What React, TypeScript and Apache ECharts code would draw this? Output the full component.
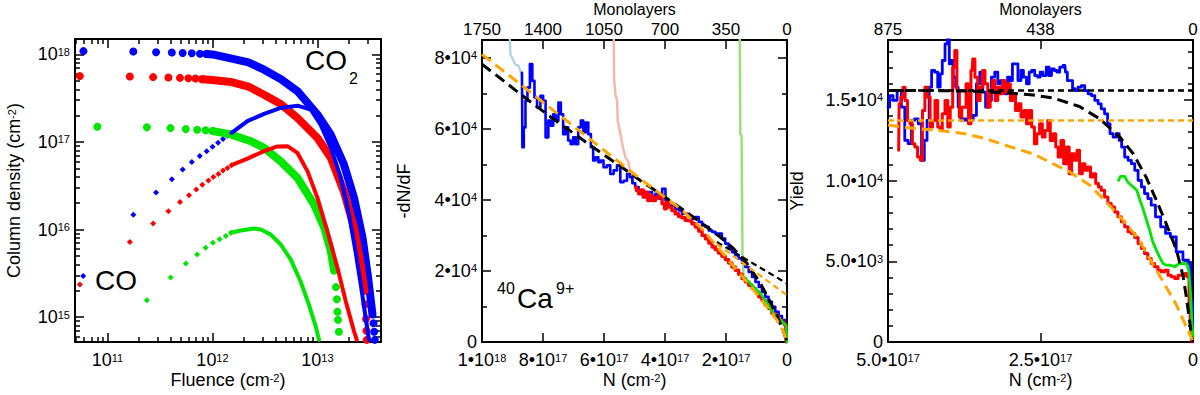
import { useEffect, useRef } from 'react';
import * as echarts from 'echarts';

const FONT = "'Liberation Sans', Arial, Helvetica, sans-serif";

// ---------------- Panel 1: column density vs fluence ([fluence, N] in cm^-2) ----------------
const co2BlueDots = [[5.9e10, 1.09e18], [1.76e11, 1.08e18], [2.9e11, 1.06e18], [4.1e11, 1.05e18], [5.2e11, 1.04e18], [6.35e11, 1.03e18], [7.6e11, 1.02e18], [8.8e11, 1.01e18], [3.42e13, 8.5e14], [3.47e13, 6.8e14], [3.52e13, 5.5e14]];
const co2BlueBand = [[8.8e11, 1.01e18], [1.0e12, 1.0e18], [1.49e12, 0.9e18], [2.2e12, 0.81e18], [3.1e12, 0.67e18], [4.5e12, 0.52e18], [6.45e12, 0.38e18], [1e13, 0.206e18], [1.34e13, 1.21e17], [1.79e13, 5.5e16], [2.23e13, 2.3e16], [2.69e13, 8e15], [3.04e13, 2.8e15], [3.34e13, 1.07e15]];
const co2RedDots = [[5.45e10, 5.65e17], [1.63e11, 5.6e17], [2.72e11, 5.5e17], [3.8e11, 5.45e17], [4.9e11, 5.4e17], [5.9e11, 5.35e17], [6.9e11, 5.3e17], [8.0e11, 5.2e17], [2.86e13, 1.4e15], [2.9e13, 9.5e14], [2.93e13, 7e14], [2.95e13, 5.5e14]];
const co2RedBand = [[8.0e11, 5.2e17], [1.0e12, 5.1e17], [1.49e12, 4.85e17], [2.2e12, 4.3e17], [3.1e12, 3.47e17], [4.5e12, 2.7e17], [6.45e12, 1.88e17], [1e13, 1.11e17], [1.34e13, 6.6e16], [1.79e13, 2.7e16], [2.23e13, 1.05e16], [2.58e13, 4e15], [2.8e13, 2e15]];
const co2GreenDots = [[8.0e10, 1.49e17], [2.37e11, 1.47e17], [3.98e11, 1.44e17], [5.57e11, 1.41e17], [7.14e11, 1.38e17], [8.6e11, 1.36e17], [1.01e12, 1.33e17], [1.5e13, 2.2e15], [1.53e13, 1.6e15], [1.55e13, 1.15e15], [1.57e13, 9.3e14], [1.6e13, 6.8e14]];
const co2GreenBand = [[1.01e12, 1.33e17], [1.49e12, 1.22e17], [2.32e12, 1.02e17], [3.1e12, 8.6e16], [4.47e12, 6.0e16], [6.45e12, 3.9e16], [9.3e12, 1.93e16], [1.16e13, 1.05e16], [1.34e13, 5.7e15], [1.44e13, 3.4e15]];
const coBlueDots = [[5.86e10, 2.94e15], [1.76e11, 1.48e16], [2.9e11, 2.65e16], [4.1e11, 3.76e16], [5.2e11, 4.84e16], [6.35e11, 5.9e16], [7.57e11, 6.94e16], [8.8e11, 7.85e16], [1.0e12, 8.8e16], [1.13e12, 9.8e16], [1.26e12, 1.08e17], [1.39e12, 1.18e17], [1.52e12, 1.27e17]];
const coBlueBand = [[1.52e12, 1.27e17], [2.15e12, 1.73e17], [3.1e12, 2.09e17], [4.47e12, 2.45e17], [6.45e12, 2.6e17], [8.65e12, 2.34e17], [1.07e13, 1.58e17], [1.34e13, 8.6e16], [1.67e13, 3.9e16], [2.0e13, 1.48e16], [2.3e13, 5.7e15], [2.58e13, 2.4e15], [2.88e13, 9.8e14], [3.1e13, 5.5e14]];
const coRedDots = [[5.45e10, 2.36e15], [1.63e11, 7.2e15], [2.72e11, 1.17e16], [3.8e11, 1.62e16], [4.9e11, 2.06e16], [5.97e11, 2.47e16], [7.0e11, 2.87e16], [8.0e11, 3.24e16], [9.15e11, 3.63e16], [1.02e12, 3.97e16], [1.14e12, 4.32e16], [1.26e12, 4.72e16], [1.39e12, 5.06e16], [1.52e12, 5.43e16]];
const coRedBand = [[1.52e12, 5.43e16], [2.15e12, 6.46e16], [3.1e12, 7.85e16], [4.16e12, 8.9e16], [5.18e12, 8.96e16], [6.45e12, 7.5e16], [8.03e12, 4.65e16], [1e13, 2.3e16], [1.24e13, 9.6e15], [1.55e13, 3.66e15], [1.86e13, 1.52e15], [2.23e13, 6.9e14], [2.37e13, 5.5e14]];
const coGreenDots = [[2.37e11, 1.56e15], [4.0e11, 2.83e15], [5.57e11, 4.1e15], [7.14e11, 5.2e15], [8.6e11, 6.2e15], [1.01e12, 7.05e15], [1.17e12, 7.77e15], [1.34e12, 8.47e15], [1.5e12, 9.2e15]];
const coGreenBand = [[1.5e12, 9.2e15], [1.86e12, 9.75e15], [2.49e12, 1.03e16], [2.88e12, 1.0e16], [3.59e12, 8.77e15], [4.47e12, 6.75e15], [5.57e12, 4.54e15], [6.9e12, 2.57e15], [8.3e12, 1.38e15], [9.64e12, 7.8e14], [1.035e13, 5.5e14]];

// ---------------- Panel 2: -dN/dF vs N ([N cm^-2, -dN/dF]) ----------------
const lightBlue2 = [[9.09e17, 86000], [9.07e17, 81000], [8.91e17, 78200], [8.80e17, 77700], [8.72e17, 75800]];
const pink2 = [[5.68e17, 86000], [5.67e17, 74400], [5.63e17, 69800], [5.57e17, 67900], [5.55e17, 62300], [5.46e17, 58500], [5.38e17, 54800], [5.30e17, 52000], [5.22e17, 51100], [5.14e17, 48300], [5.03e17, 45000], [4.97e17, 43600]];
const lightGreen2 = [[1.55e17, 86000], [1.53e17, 58500], [1.49e17, 58100], [1.46e17, 24900], [1.42e17, 18300]];
const blue2 = [[8.69e17, 75800], [8.66e17, 54800], [8.60e17, 60400], [8.55e17, 67900], [8.47e17, 71600], [8.39e17, 78200], [8.31e17, 73500], [8.25e17, 68800], [8.14e17, 66000], [8.03e17, 69300], [7.96e17, 67900], [7.87e17, 57600], [7.78e17, 62300], [7.70e17, 60900], [7.63e17, 64100], [7.54e17, 62300], [7.45e17, 67400], [7.38e17, 64100], [7.30e17, 58500], [7.21e17, 60400], [7.14e17, 56700], [7.05e17, 55700], [6.97e17, 57600], [6.89e17, 55700], [6.80e17, 60400], [6.72e17, 62300], [6.64e17, 59000], [6.56e17, 61800], [6.47e17, 58500], [6.39e17, 54800], [6.32e17, 51100], [6.23e17, 52000], [6.14e17, 50600], [6.07e17, 51100], [5.96e17, 49200], [5.85e17, 49700], [5.74e17, 47300], [5.63e17, 48300], [5.52e17, 49700], [5.41e17, 45000], [5.30e17, 45400], [5.19e17, 47300], [5.11e17, 46400], [5.03e17, 44700], [4.92e17, 43600], [4.81e17, 42600], [4.70e17, 42200], [4.59e17, 40800], [4.48e17, 42200], [4.37e17, 39800], [4.26e17, 41700], [4.15e17, 40300], [4.04e17, 43100], [3.93e17, 39800], [3.83e17, 38400], [3.72e17, 38400], [3.61e17, 37500], [3.50e17, 37000], [3.39e17, 36100], [3.28e17, 36100], [3.17e17, 35300], [3.06e17, 34700], [2.95e17, 35200], [2.84e17, 33800], [2.73e17, 32800], [2.62e17, 32400], [2.51e17, 31400], [2.40e17, 31000], [2.30e17, 30500], [2.19e17, 30500], [2.08e17, 29100], [1.97e17, 27700], [1.86e17, 26300], [1.75e17, 25300], [1.64e17, 24400], [1.53e17, 23500], [1.42e17, 22300], [1.31e17, 21100], [1.20e17, 19700], [1.09e17, 18300], [0.98e17, 16900], [0.87e17, 15500], [0.77e17, 14100], [0.66e17, 12700], [0.55e17, 11300], [0.44e17, 9900], [0.33e17, 8500], [0.22e17, 7300], [0.11e17, 6200], [0.03e17, 4800], [0, 0]];
const red2 = [[4.97e17, 43570], [4.90e17, 42640], [4.83e17, 41700], [4.75e17, 42820], [4.68e17, 40770], [4.59e17, 42170], [4.54e17, 39830], [4.46e17, 41230], [4.37e17, 39830], [4.26e17, 40580], [4.15e17, 41230], [4.04e17, 38900], [3.99e17, 37490], [3.93e17, 39360], [3.83e17, 37960], [3.72e17, 37030], [3.61e17, 36090], [3.50e17, 35340], [3.39e17, 34970], [3.28e17, 34220], [3.17e17, 34030], [3.06e17, 33290], [2.95e17, 32350], [2.84e17, 31230], [2.73e17, 30010], [2.62e17, 29080], [2.51e17, 27860], [2.40e17, 26740], [2.30e17, 25990], [2.19e17, 25060], [2.08e17, 24120], [1.97e17, 23190], [1.86e17, 22250], [1.75e17, 21130], [1.64e17, 20200], [1.53e17, 19070], [1.42e17, 17860], [1.31e17, 16920], [1.20e17, 15990], [1.09e17, 15050], [0.98e17, 14120], [0.87e17, 12720], [0.77e17, 11780], [0.66e17, 10380], [0.55e17, 9440], [0.44e17, 8040], [0.33e17, 7110], [0.22e17, 6170], [0.11e17, 5420], [0.04e17, 4770], [0, 0]];
const green2 = [[1.42e17, 18330], [1.31e17, 17400], [1.20e17, 16460], [1.04e17, 15050], [0.87e17, 13650], [0.66e17, 11000], [0.44e17, 8040], [0.22e17, 6300], [0.11e17, 5240], [0.03e17, 4800], [0, 0]];
const blackFit2 = [[10.0e17, 78170], [9.40e17, 74240], [8.74e17, 69750], [8.09e17, 65540], [7.43e17, 61340], [6.78e17, 57410], [6.12e17, 53390], [5.46e17, 49460], [4.81e17, 45440], [4.15e17, 41700], [3.50e17, 37770], [2.84e17, 33750], [2.19e17, 29550], [1.75e17, 26270], [1.31e17, 22070], [0.87e17, 16460], [0.55e17, 11310], [0.27e17, 6170], [0.11e17, 2900], [0, 0]];
const orangeFit2 = [[10.0e17, 80970], [9.40e17, 76950], [8.74e17, 72560], [8.09e17, 68070], [7.43e17, 63670], [6.78e17, 59280], [6.12e17, 54790], [5.46e17, 50300], [4.81e17, 45910], [4.15e17, 41700], [3.50e17, 37490], [2.84e17, 32350], [2.19e17, 25810], [1.64e17, 20200], [1.09e17, 14590], [0.66e17, 9910], [0.33e17, 6170], [0.11e17, 2900], [0, 0]];
const blackLin2 = [[2.30e17, 28140], [0, 16460]];
const orangeLin2 = [[2.30e17, 27580], [0, 13180]];

// ---------------- Panel 3: yield vs N ([N cm^-2, yield]) ----------------
const blue3 = [[5.0e17, 14540], [4.945e17, 15260], [4.89e17, 14960], [4.81e17, 15570], [4.75e17, 14540], [4.70e17, 12480], [4.64e17, 12280], [4.59e17, 13720], [4.54e17, 13820], [4.47e17, 13510], [4.43e17, 11250], [4.38e17, 12480], [4.34e17, 13720], [4.31e17, 15780], [4.26e17, 16810], [4.21e17, 16710], [4.16e17, 15780], [4.13e17, 16600], [4.09e17, 17430], [4.04e17, 18460], [4.01e17, 18900], [3.98e17, 17220], [3.95e17, 17430], [3.91e17, 16400], [3.87e17, 15780], [3.83e17, 14540], [3.78e17, 13720], [3.74e17, 13820], [3.69e17, 13720], [3.63e17, 13720], [3.58e17, 14030], [3.52e17, 15990], [3.47e17, 16710], [3.42e17, 15470], [3.38e17, 14540], [3.33e17, 14960], [3.28e17, 16400], [3.22e17, 16710], [3.18e17, 15990], [3.14e17, 16190], [3.10e17, 15780], [3.06e17, 15370], [3.02e17, 16400], [2.98e17, 16190], [2.94e17, 17220], [2.90e17, 17220], [2.84e17, 16190], [2.80e17, 16810], [2.76e17, 16400], [2.70e17, 15990], [2.67e17, 16710], [2.62e17, 16810], [2.57e17, 16500], [2.52e17, 16400], [2.49e17, 16710], [2.43e17, 16500], [2.38e17, 17020], [2.34e17, 16500], [2.30e17, 16910], [2.25e17, 16810], [2.21e17, 16710], [2.16e17, 17020], [2.10e17, 17120], [2.08e17, 16710], [2.04e17, 16190], [1.99e17, 16190], [1.96e17, 15680], [1.91e17, 15570], [1.86e17, 15780], [1.80e17, 15880], [1.75e17, 15570], [1.69e17, 15370], [1.64e17, 15260], [1.58e17, 14960], [1.53e17, 14750], [1.48e17, 14440], [1.42e17, 14130], [1.38e17, 13510], [1.34e17, 12900], [1.28e17, 12690], [1.23e17, 12900], [1.19e17, 12480], [1.15e17, 12070], [1.09e17, 11450], [1.04e17, 11250], [0.98e17, 11040], [0.93e17, 10630], [0.87e17, 10010], [0.82e17, 9600], [0.77e17, 9190], [0.71e17, 8880], [0.66e17, 8470], [0.57e17, 7750], [0.49e17, 7130], [0.41e17, 6720], [0.33e17, 6510], [0.22e17, 5580], [0.11e17, 5070], [0.04e17, 4860], [0.02e17, 2600], [0, 0]];
const red3 = [[4.825e17, 11870], [4.81e17, 14750], [4.77e17, 15160], [4.74e17, 15780], [4.70e17, 14960], [4.66e17, 13720], [4.62e17, 13510], [4.58e17, 12280], [4.54e17, 12070], [4.49e17, 11450], [4.45e17, 11250], [4.42e17, 14340], [4.37e17, 15780], [4.33e17, 15160], [4.29e17, 13310], [4.25e17, 13720], [4.21e17, 14960], [4.16e17, 13310], [4.13e17, 13100], [4.09e17, 14130], [4.04e17, 14960], [4.00e17, 13310], [3.96e17, 14540], [3.92e17, 17020], [3.89e17, 18050], [3.85e17, 15570], [3.81e17, 13930], [3.77e17, 14540], [3.74e17, 14540], [3.70e17, 15990], [3.66e17, 13510], [3.62e17, 16810], [3.60e17, 17530], [3.55e17, 16400], [3.51e17, 14960], [3.47e17, 15780], [3.43e17, 16810], [3.39e17, 15990], [3.34e17, 14540], [3.31e17, 15570], [3.27e17, 16190], [3.22e17, 14960], [3.18e17, 15780], [3.14e17, 15370], [3.10e17, 16190], [3.06e17, 15470], [3.02e17, 15990], [2.97e17, 14960], [2.93e17, 15370], [2.89e17, 14340], [2.84e17, 14750], [2.80e17, 13930], [2.75e17, 14340], [2.71e17, 13510], [2.67e17, 14340], [2.62e17, 13310], [2.58e17, 12280], [2.54e17, 12900], [2.49e17, 13510], [2.45e17, 12690], [2.40e17, 13100], [2.36e17, 13720], [2.32e17, 12480], [2.27e17, 12900], [2.23e17, 12070], [2.19e17, 11450], [2.14e17, 12480], [2.10e17, 11040], [2.05e17, 12070], [2.01e17, 10420], [1.97e17, 11660], [1.92e17, 11250], [1.88e17, 11870], [1.84e17, 10420], [1.79e17, 11040], [1.75e17, 10630], [1.70e17, 10840], [1.66e17, 10220], [1.62e17, 10420], [1.57e17, 9810], [1.53e17, 9600], [1.48e17, 9390], [1.42e17, 8980], [1.37e17, 8570], [1.31e17, 8360], [1.26e17, 8050], [1.20e17, 7750], [1.15e17, 7440], [1.09e17, 7130], [1.04e17, 6820], [0.98e17, 6720], [0.93e17, 6470], [0.87e17, 6100], [0.82e17, 5790], [0.77e17, 5480], [0.71e17, 5170], [0.66e17, 4860], [0.60e17, 4660], [0.55e17, 4450], [0.49e17, 4350], [0.44e17, 4450], [0.38e17, 4140], [0.33e17, 4040], [0.27e17, 3930], [0.22e17, 4140], [0.16e17, 4140], [0.11e17, 4240], [0.08e17, 4040], [0.05e17, 2180], [0.03e17, 740], [0.01e17, 0]];
const green3 = [[1.22e17, 10010], [1.19e17, 10260], [1.12e17, 10260], [1.07e17, 9910], [0.98e17, 9600], [0.92e17, 9390], [0.87e17, 8780], [0.82e17, 8260], [0.77e17, 7640], [0.71e17, 6920], [0.66e17, 6200], [0.60e17, 5690], [0.55e17, 5270], [0.49e17, 4860], [0.44e17, 4760], [0.38e17, 4760], [0.30e17, 4660], [0.22e17, 4860], [0.16e17, 4860], [0.11e17, 4860], [0.07e17, 4450], [0.04e17, 3010], [0.02e17, 1360], [0, 330]];
const blackFit3 = [[5.0e17, 15570], [4.26e17, 15570], [3.61e17, 15530], [3.06e17, 15430], [2.62e17, 15290], [2.30e17, 15120], [1.86e17, 14580], [1.53e17, 13820], [1.20e17, 12690], [0.98e17, 11660], [0.77e17, 10220], [0.60e17, 8780], [0.44e17, 7330], [0.27e17, 5690], [0.16e17, 4040], [0.11e17, 2800], [0.05e17, 1150], [0.01e17, 0]];
const orangeFit3 = [[5.0e17, 13430], [4.67e17, 13270], [4.18e17, 13100], [3.74e17, 12900], [3.42e17, 12610], [2.98e17, 12070], [2.60e17, 11620], [2.30e17, 11040], [2.02e17, 10530], [1.69e17, 9700], [1.45e17, 8780], [1.17e17, 7650], [0.90e17, 6410], [0.68e17, 4960], [0.49e17, 3730], [0.27e17, 2280], [0.11e17, 950], [0.01e17, 120]];
const blackConst3 = [[5.0e17, 15570], [0, 15570]];
const orangeConst3 = [[5.0e17, 13720], [0, 13720]];

// ---------------- tick values ----------------
const p1XTicks = [1e11, 1e12, 1e13];
const p1YTicks = [1e15, 1e16, 1e17, 1e18];
const p2XTicks = [0, 2e17, 4e17, 6e17, 8e17, 1e18];
const p2TopTicks = [0, 350, 700, 1050, 1400, 1750];
const p2YTicks = [0, 20000, 40000, 60000, 80000];
const p2YMinor = [10000, 30000, 50000, 70000];
const p3XTicks = [0, 2.5e17, 5e17];
const p3TopTicks = [0, 437.5, 875];
const p3YTicks = [0, 5000, 10000, 15000];
const p3YMinor = [1000, 2000, 3000, 4000, 6000, 7000, 8000, 9000, 11000, 12000, 13000, 14000, 16000, 17000, 18000];

const P1X = [4.9e10, 4.03e13];
const P1Y = [5.2e14, 1.5e18];

function logMinor(lo: number, hi: number) {
  const out: number[] = [];
  for (let e = Math.floor(Math.log10(lo)); e <= Math.ceil(Math.log10(hi)); e++) {
    for (let k = 2; k <= 9; k++) {
      const v = k * Math.pow(10, e);
      if (v > lo && v < hi) out.push(v);
    }
  }
  return out;
}

const makeRich = (size: number): any => ({
  b: { fontSize: size, lineHeight: size - 2, fontFamily: FONT, color: '#000' },
  s: { fontSize: 11, lineHeight: 10, fontFamily: FONT, color: '#000', verticalAlign: 'top' },
});

const pow10Label = (v: number) => `{b|10}{s|${Math.round(Math.log10(v))}}`;
const sciLabel = (dec: number) => (v: number) => {
  if (Math.abs(v) < 1e-9) return '{b|0}';
  const e = Math.floor(Math.log10(v) + 1e-9);
  const m = v / Math.pow(10, e);
  return `{b|${m.toFixed(dec)}•10}{s|${e}}`;
};
const intLabel = (v: number) => `{b|${Math.round(v)}}`;

type AxisSpec = {
  grid: number; type: 'value' | 'log'; min: number; max: number; inverse?: boolean;
  position: string; line: boolean; ticks: number[]; tickLen: number;
  labels?: number[]; fmt?: (v: number) => string; margin?: number;
  name?: string; nameGap?: number; labelSize?: number; nameSize?: number;
};

function axis(a: AxisSpec): any {
  const ls = a.labelSize ?? 18;
  const ns = a.nameSize ?? 18;
  const o: any = {
    gridIndex: a.grid, type: a.type, min: a.min, max: a.max, inverse: !!a.inverse,
    position: a.position,
    axisLine: { show: a.line, onZero: false, lineStyle: { color: '#000', width: 2 } },
    axisTick: a.ticks.length
      ? { show: true, inside: true, length: a.tickLen, customValues: a.ticks, lineStyle: { color: '#000', width: 1.5 } }
      : { show: false },
    axisLabel: a.labels
      ? { show: true, customValues: a.labels, formatter: a.fmt, margin: a.margin ?? 6, color: '#000', fontSize: ls, lineHeight: ls - 2, fontFamily: FONT, rich: makeRich(ls) }
      : { show: false },
    splitLine: { show: false },
    minorTick: { show: false },
    axisPointer: { show: false },
    name: a.name ?? '',
    nameLocation: 'middle',
    nameGap: a.nameGap ?? 0,
    nameMoveOverlap: false,
    nameTextStyle: { color: '#000', fontSize: ns, lineHeight: ns - 2, fontFamily: FONT, rich: makeRich(ns) },
  };
  if (a.type === 'log') o.logBase = 10;
  return o;
}

function buildOption(): any {
  const p1XMinor = logMinor(P1X[0], P1X[1]);
  const p1YMinor = logMinor(P1Y[0], P1Y[1]);
  const L = 9, S = 5;

  const xAxis = [
    // panel 1 (index 0..3)
    axis({ grid: 0, type: 'log', min: P1X[0], max: P1X[1], position: 'bottom', line: true, ticks: p1XTicks, tickLen: L, labels: p1XTicks, fmt: pow10Label, margin: 10, name: 'Fluence (cm{s|-2})', nameGap: 30 }),
    axis({ grid: 0, type: 'log', min: P1X[0], max: P1X[1], position: 'bottom', line: false, ticks: p1XMinor, tickLen: S }),
    axis({ grid: 0, type: 'log', min: P1X[0], max: P1X[1], position: 'top', line: true, ticks: p1XTicks, tickLen: L }),
    axis({ grid: 0, type: 'log', min: P1X[0], max: P1X[1], position: 'top', line: false, ticks: p1XMinor, tickLen: S }),
    // panel 2 (index 4..7)
    axis({ grid: 1, type: 'value', min: 0, max: 1e18, inverse: true, position: 'bottom', line: true, ticks: p2XTicks, tickLen: L, labels: p2XTicks, fmt: sciLabel(0), margin: 10, name: 'N (cm{s|-2})', nameGap: 30 }),
    axis({ grid: 1, type: 'value', min: 0, max: 1750, inverse: true, position: 'top', line: true, ticks: p2TopTicks, tickLen: L, labels: p2TopTicks, fmt: intLabel, margin: 3, labelSize: 17, name: 'Monolayers', nameGap: 24, nameSize: 16 }),
    axis({ grid: 1, type: 'value', min: 0, max: 1e18, inverse: true, position: 'bottom', line: false, ticks: [], tickLen: S }),
    axis({ grid: 1, type: 'value', min: 0, max: 1e18, inverse: true, position: 'top', line: false, ticks: [], tickLen: S }),
    // panel 3 (index 8..11)
    axis({ grid: 2, type: 'value', min: 0, max: 5e17, inverse: true, position: 'bottom', line: true, ticks: p3XTicks, tickLen: L, labels: p3XTicks, fmt: sciLabel(1), margin: 10, name: 'N (cm{s|-2})', nameGap: 30 }),
    axis({ grid: 2, type: 'value', min: 0, max: 875, inverse: true, position: 'top', line: true, ticks: p3TopTicks, tickLen: L, labels: p3TopTicks, fmt: intLabel, margin: 3, labelSize: 17, name: 'Monolayers', nameGap: 24, nameSize: 16 }),
    axis({ grid: 2, type: 'value', min: 0, max: 5e17, inverse: true, position: 'bottom', line: false, ticks: [], tickLen: S }),
    axis({ grid: 2, type: 'value', min: 0, max: 5e17, inverse: true, position: 'top', line: false, ticks: [], tickLen: S }),
  ];

  const yAxis = [
    axis({ grid: 0, type: 'log', min: P1Y[0], max: P1Y[1], position: 'left', line: true, ticks: p1YTicks, tickLen: L, labels: p1YTicks, fmt: pow10Label, margin: 5, name: 'Column density (cm{s|-2})', nameGap: 53 }),
    axis({ grid: 0, type: 'log', min: P1Y[0], max: P1Y[1], position: 'left', line: false, ticks: p1YMinor, tickLen: S }),
    axis({ grid: 0, type: 'log', min: P1Y[0], max: P1Y[1], position: 'right', line: true, ticks: p1YTicks, tickLen: L }),
    axis({ grid: 0, type: 'log', min: P1Y[0], max: P1Y[1], position: 'right', line: false, ticks: p1YMinor, tickLen: S }),

    axis({ grid: 1, type: 'value', min: 0, max: 85000, position: 'left', line: true, ticks: p2YTicks, tickLen: L, labels: p2YTicks, fmt: sciLabel(0), margin: 5, name: '-dN/dF', nameGap: 70 }),
    axis({ grid: 1, type: 'value', min: 0, max: 85000, position: 'left', line: false, ticks: p2YMinor, tickLen: S }),
    axis({ grid: 1, type: 'value', min: 0, max: 85000, position: 'right', line: true, ticks: p2YTicks, tickLen: L }),
    axis({ grid: 1, type: 'value', min: 0, max: 85000, position: 'right', line: false, ticks: p2YMinor, tickLen: S }),

    axis({ grid: 2, type: 'value', min: 0, max: 18700, position: 'left', line: true, ticks: p3YTicks, tickLen: L, labels: p3YTicks, fmt: sciLabel(1), margin: 5, name: 'Yield', nameGap: 83 }),
    axis({ grid: 2, type: 'value', min: 0, max: 18700, position: 'left', line: false, ticks: p3YMinor, tickLen: S }),
    axis({ grid: 2, type: 'value', min: 0, max: 18700, position: 'right', line: true, ticks: p3YTicks, tickLen: L }),
    axis({ grid: 2, type: 'value', min: 0, max: 18700, position: 'right', line: false, ticks: p3YMinor, tickLen: S }),
  ];

  const BLUE = '#0000ff', RED = '#ff0000', GREEN = '#00e600', ORANGE = '#ffa500', BLACK = '#000000';

  const band = (data: number[][], color: string, width: number) => ({
    type: 'line', xAxisIndex: 0, yAxisIndex: 0, data, showSymbol: false, symbol: 'none', silent: true,
    lineStyle: { color, width, cap: 'round', join: 'round' },
  });
  const dots = (data: number[][], color: string, symbol: string, size: number) => ({
    type: 'scatter', xAxisIndex: 0, yAxisIndex: 0, data, symbol, symbolSize: size, silent: true,
    itemStyle: { color, opacity: 1 },
  });
  const ln = (idx: number, data: number[][], color: string, width: number, extra: any = {}) => ({
    type: 'line', xAxisIndex: idx, yAxisIndex: idx, data, showSymbol: false, symbol: 'none', silent: true,
    clip: true,
    lineStyle: { color, width, cap: extra.dash ? 'butt' : 'round', join: 'round', ...(extra.dash ? { type: extra.dash } : {}) },
    ...(extra.step ? { step: extra.step } : {}),
  });

  const series = [
    // panel 1
    band(co2BlueBand, BLUE, 8), dots(co2BlueDots, BLUE, 'circle', 8),
    band(co2RedBand, RED, 8), dots(co2RedDots, RED, 'circle', 8),
    band(co2GreenBand, GREEN, 8), dots(co2GreenDots, GREEN, 'circle', 8),
    band(coBlueBand, BLUE, 4), dots(coBlueDots, BLUE, 'diamond', 6),
    band(coRedBand, RED, 4), dots(coRedDots, RED, 'diamond', 6),
    band(coGreenBand, GREEN, 4), dots(coGreenDots, GREEN, 'diamond', 6),
    // panel 2
    ln(4, lightBlue2, '#a9d3e6', 2.2),
    ln(4, pink2, '#f6b7a6', 2.5),
    ln(4, lightGreen2, '#9ade7c', 2.5),
    ln(4, blue2, BLUE, 2.6, { step: 'middle' }),
    ln(4, red2, RED, 3.4, { step: 'middle' }),
    ln(4, green2, GREEN, 2.6),
    ln(4, blackFit2, BLACK, 3, { dash: [11, 6] }),
    ln(4, orangeFit2, ORANGE, 3, { dash: [11, 6] }),
    ln(4, blackLin2, BLACK, 2.2, { dash: [6, 4] }),
    ln(4, orangeLin2, ORANGE, 2.2, { dash: [6, 4] }),
    // panel 3
    ln(8, blue3, BLUE, 2.8, { step: 'middle' }),
    ln(8, red3, RED, 3, { step: 'middle' }),
    ln(8, green3, GREEN, 2.8),
    ln(8, blackConst3, BLACK, 2.5, { dash: [6, 4] }),
    ln(8, orangeConst3, ORANGE, 2.5, { dash: [6, 4] }),
    ln(8, blackFit3, BLACK, 3, { dash: [11, 6] }),
    ln(8, orangeFit3, ORANGE, 3, { dash: [11, 6] }),
  ];

  const txt = (x: number, y: number, text: string, size: number) => ({
    type: 'text', x, y, silent: true, z: 100,
    style: { text, fontSize: size, fontFamily: FONT, fill: '#000', align: 'left', verticalAlign: 'middle' },
  });

  return {
    animation: false,
    backgroundColor: '#ffffff',
    textStyle: { fontFamily: FONT },
    grid: [
      { left: 75, top: 39, width: 306, height: 303, containLabel: false, outerBoundsMode: 'none' },
      { left: 482, top: 40, width: 305, height: 302, containLabel: false, outerBoundsMode: 'none' },
      { left: 888, top: 40, width: 305, height: 302, containLabel: false, outerBoundsMode: 'none' },
    ],
    xAxis,
    yAxis,
    series,
    graphic: [
      txt(305, 60, 'CO', 28),
      txt(349, 78, '2', 16),
      txt(95, 280, 'CO', 28),
      txt(497, 288, '40', 16),
      txt(517, 298, 'Ca', 28),
      txt(556, 288, '9+', 16),
    ],
  };
}

export default function App() {
  const ref = useRef<HTMLDivElement>(null);
  useEffect(() => {
    if (!ref.current) return;
    const chart = echarts.init(ref.current, null, { renderer: 'svg' });
    chart.setOption(buildOption());
    return () => chart.dispose();
  }, []);
  return <div ref={ref} style={{ position: 'fixed', left: 0, top: 0, width: 1200, height: 395 }} />;
}
